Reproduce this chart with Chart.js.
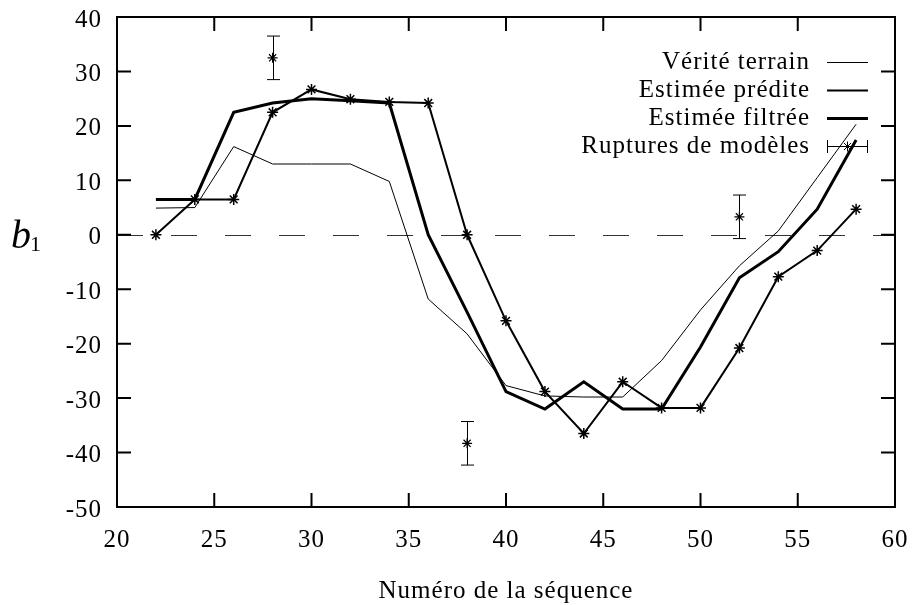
<!DOCTYPE html>
<html>
<head>
<meta charset="utf-8">
<script src="https://cdn.jsdelivr.net/npm/chart.js@4.4.1/dist/chart.umd.min.js"></script>
<style>
  html, body { margin: 0; padding: 0; background: #fff; }
  #wrap { width: 912px; height: 605px; }
</style>
</head>
<body>
<div id="wrap"><canvas id="chart" width="912" height="605"></canvas></div>
<script>
// values
const sequence = [22, 24, 26, 28, 30, 32, 34, 36, 38, 40, 42, 44, 46, 48, 50, 52, 54, 56, 58];
const veriteTerrain = [4.9, 5.0, 16.2, 13.0, 13.0, 13.0, 9.8, -11.8, -18.2, -27.7, -29.6, -29.8, -29.8, -23.1, -13.8, -5.7, 0.7, 10.5, 20.3];
const estimeePredite = [0, 6.5, 6.5, 22.5, 26.7, 24.9, 24.4, 24.2, 0, -15.8, -28.8, -36.5, -27.0, -31.8, -31.8, -20.8, -7.7, -2.9, 4.7];
const estimeeFiltree = [6.5, 6.5, 22.5, 24.2, 25.0, 24.6, 24.2, 0, -14.2, -28.8, -32.0, -27.0, -32.0, -32.0, -20.6, -7.9, -3.1, 4.7, 17.4];
const rupturesX = [28, 38, 52];
const rupturesY = [32.5, -38.3, 3.3];
const rupturesErr = [4, 4, 4];

const seriesLabels = ['Vérité terrain', 'Estimée prédite', 'Estimée filtrée', 'Ruptures de modèles'];
const xTitle = 'Numéro de la séquence';

const FONT = '"Liberation Serif", "DejaVu Serif", serif';
Chart.defaults.font.family = FONT;
Chart.defaults.font.size = 25;
Chart.defaults.color = '#000';

const toPoints = (xs, ys) => xs.map((x, i) => ({ x, y: ys[i] }));

// gnuplot-like frame: box, inward ticks on all sides, dashed zero axis
const framePlugin = {
	id: 'frame',
	beforeDraw(chart) {
		chart.ctx.letterSpacing = '1px';
	},
	beforeDatasetsDraw(chart) {
		const { ctx, chartArea: a, scales: { x, y } } = chart;
		ctx.save();
		const y0 = Math.round(y.getPixelForValue(0)) + 0.5;
		ctx.strokeStyle = '#333';
		ctx.lineWidth = 1;
		ctx.setLineDash([26, 28]);
		ctx.beginPath();
		ctx.moveTo(a.left, y0);
		ctx.lineTo(a.right, y0);
		ctx.stroke();
		ctx.setLineDash([]);

		ctx.strokeStyle = '#000';
		ctx.lineWidth = 2;
		const tl = 14;
		ctx.beginPath();
		x.ticks.forEach((t) => {
			const px = x.getPixelForValue(t.value);
			ctx.moveTo(px, a.bottom); ctx.lineTo(px, a.bottom - tl);
			ctx.moveTo(px, a.top); ctx.lineTo(px, a.top + tl);
		});
		y.ticks.forEach((t) => {
			const py = y.getPixelForValue(t.value);
			ctx.moveTo(a.left, py); ctx.lineTo(a.left + tl, py);
			ctx.moveTo(a.right, py); ctx.lineTo(a.right - tl, py);
		});
		ctx.stroke();
		ctx.strokeRect(a.left, a.top, a.right - a.left, a.bottom - a.top);

		// y axis title  b_1
		ctx.fillStyle = '#000';
		ctx.textBaseline = 'alphabetic';
		ctx.textAlign = 'left';
		ctx.letterSpacing = '0px';
		ctx.font = 'italic 40px ' + FONT;
		ctx.fillText('b', 11, 248);
		ctx.font = '22px ' + FONT;
		ctx.fillText('1', 30, 251);
		ctx.restore();
	},
	afterDatasetsDraw(chart) {
		const { ctx, scales: { x, y } } = chart;
		ctx.save();
		ctx.strokeStyle = '#000';
		ctx.lineWidth = 1;
		const cap = 6.5;
		ctx.beginPath();
		rupturesX.forEach((v, i) => {
			const px = Math.round(x.getPixelForValue(v)) + 0.5;
			const top = y.getPixelForValue(rupturesY[i] + rupturesErr[i]);
			const bot = y.getPixelForValue(rupturesY[i] - rupturesErr[i]);
			ctx.moveTo(px, top); ctx.lineTo(px, bot);
			ctx.moveTo(px - cap, top); ctx.lineTo(px + cap, top);
			ctx.moveTo(px - cap, bot); ctx.lineTo(px + cap, bot);
		});
		ctx.stroke();

		// legend, text right-aligned with sample on the right
		const textRight = 810;
		const s0 = 827, s1 = 868;
		const rows = [62.5, 90.5, 118.5, 146.5];
		ctx.font = '25px ' + FONT;
		ctx.textAlign = 'right';
		ctx.textBaseline = 'middle';
		ctx.fillStyle = '#000';
		chart.data.datasets.forEach((ds, i) => {
			ctx.fillText(seriesLabels[i], textRight, rows[i]);
			if (i < 3) {
				ctx.lineWidth = ds.borderWidth;
				ctx.beginPath();
				ctx.moveTo(s0, rows[i]); ctx.lineTo(s1, rows[i]);
				ctx.stroke();
			} else {
				const r = rows[i];
				ctx.lineWidth = 1;
				ctx.beginPath();
				ctx.moveTo(s0, r); ctx.lineTo(s1, r);
				ctx.moveTo(s0 + 0.5, r - cap); ctx.lineTo(s0 + 0.5, r + cap);
				ctx.moveTo(s1 - 0.5, r - cap); ctx.lineTo(s1 - 0.5, r + cap);
				ctx.stroke();
				Chart.helpers.drawPoint(ctx, { pointStyle: 'star', radius: 5, borderWidth: 1.2 }, (s0 + s1) / 2, r);
			}
		});
		ctx.restore();
	}
};

new Chart(document.getElementById('chart'), {
	type: 'line',
	data: {
		datasets: [
			{
				label: seriesLabels[0],
				data: toPoints(sequence, veriteTerrain),
				borderColor: '#000',
				borderWidth: 1,
				pointRadius: 0,
			},
			{
				label: seriesLabels[1],
				data: toPoints(sequence, estimeePredite),
				borderColor: '#000',
				borderWidth: 2,
				pointStyle: 'star',
				pointRadius: 5.5,
				pointBorderWidth: 1.5,
				pointBorderColor: '#000',
			},
			{
				label: seriesLabels[2],
				data: toPoints(sequence, estimeeFiltree),
				borderColor: '#000',
				borderWidth: 3,
				pointRadius: 0,
			},
			{
				label: seriesLabels[3],
				data: toPoints(rupturesX, rupturesY),
				showLine: false,
				borderColor: '#000',
				borderWidth: 1,
				pointStyle: 'star',
				pointRadius: 5,
				pointBorderWidth: 1.2,
				pointBorderColor: '#000',
			},
		],
	},
	options: {
		responsive: false,
		animation: false,
		devicePixelRatio: 1,
		layout: { padding: { top: 17, right: 17, left: 0, bottom: 0 } },
		plugins: {
			legend: { display: false },
			tooltip: { enabled: false },
		},
		scales: {
			x: {
				type: 'linear',
				min: 20,
				max: 60,
				ticks: { stepSize: 5, padding: 18, maxRotation: 0 },
				grid: { display: false, drawTicks: false },
				border: { display: false },
				title: {
					display: true,
					text: xTitle,
					font: { size: 25, lineHeight: 1 },
					padding: { top: 0, bottom: 1 },
				},
				afterFit(scale) {
					scale.height = 98;
					scale.paddingLeft = 0;
					scale.paddingRight = 0;
				},
			},
			y: {
				type: 'linear',
				min: -50,
				max: 40,
				ticks: { stepSize: 10, padding: 15, labelOffset: 3 },
				grid: { display: false, drawTicks: false },
				border: { display: false },
				afterFit(scale) {
					scale.width = 117;
					scale.paddingTop = 0;
					scale.paddingBottom = 0;
				},
			},
		},
	},
	plugins: [framePlugin],
});
</script>
</body>
</html>
